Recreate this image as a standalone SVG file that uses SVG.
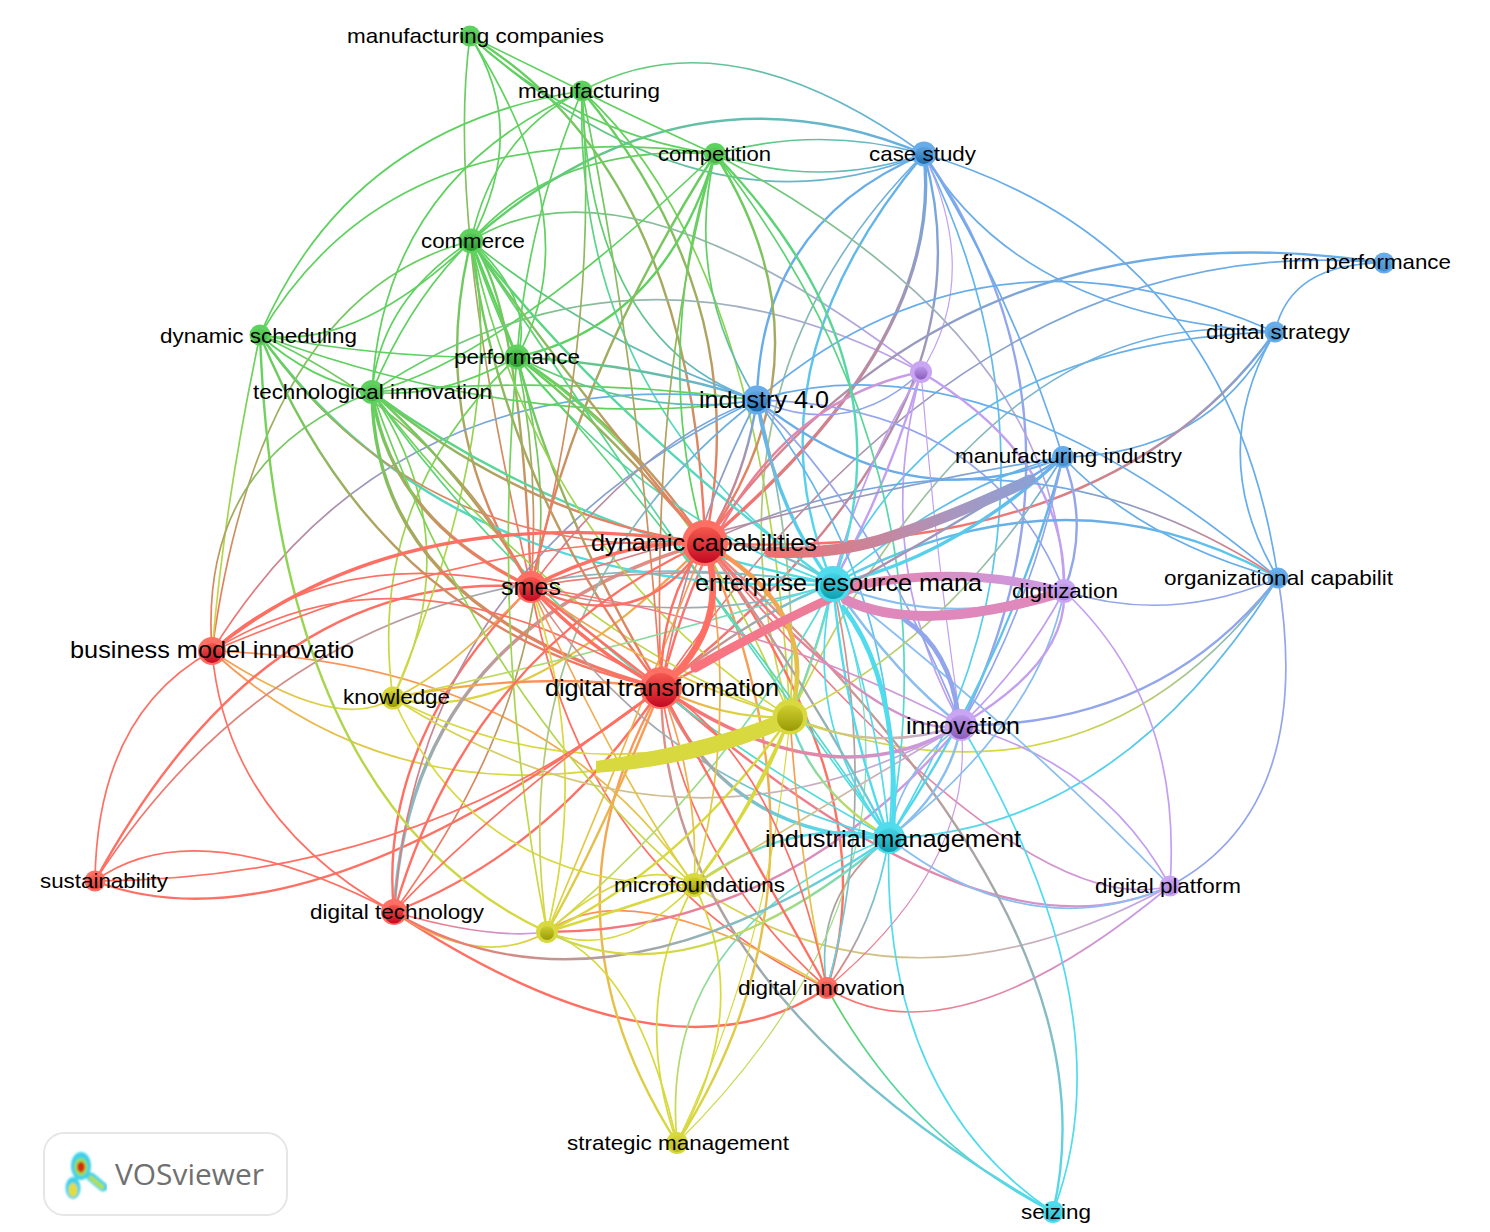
<svg xmlns="http://www.w3.org/2000/svg" width="1490" height="1232" viewBox="0 0 1490 1232">
<style>
text{font-family:"Liberation Sans",Arial,sans-serif;fill:#000}
.s{font-size:21px}.l{font-size:24px}
#connectors path{fill:none;stroke-width:1.7;stroke-linecap:round}
#connectors .w1{stroke-width:1.2}#connectors .w2{stroke-width:2.4}#connectors .w3{stroke-width:3.4}#connectors .w4{stroke-width:4.6}#connectors .w6{stroke-width:6.5}
.r{stroke:#ff6f63}.g{stroke:#5fd15f}.b{stroke:#68ade9}.y{stroke:#d8d83f}.p{stroke:#c39ff0}.c{stroke:#50dcec}
.rg{stroke:url(#l-rg)}.rb{stroke:url(#l-rb)}.ry{stroke:url(#l-ry)}.rp{stroke:url(#l-rp)}.rc{stroke:url(#l-rc)}.rh{stroke:url(#l-rh)}.gb{stroke:url(#l-gb)}.gy{stroke:url(#l-gy)}.gp{stroke:url(#l-gp)}.gc{stroke:url(#l-gc)}.by{stroke:url(#l-by)}.bp{stroke:#93a6ec}.bc{stroke:url(#l-bc)}.yp{stroke:url(#l-yp)}.yc{stroke:url(#l-yc)}.pc{stroke:#89beee}
.nr{fill:#ff6f63}.ng{fill:#5fd15f}.nb{fill:#68ade9}.ny{fill:#d8d83f}.np{fill:#c9a5f3}.nc{fill:#50dcec}
.ir{fill:url(#ir)}.ig{fill:url(#ig)}.ib{fill:url(#ib)}.iy{fill:url(#iy)}.ip{fill:url(#ip)}.ic{fill:url(#ic)}
.f{opacity:.45}
</style>
<defs>
<linearGradient id="ir" x1="0" y1="0" x2="0" y2="1"><stop offset="0" stop-color="#f4584e"/><stop offset="1" stop-color="#c40a22"/></linearGradient>
<linearGradient id="ig" x1="0" y1="0" x2="0" y2="1"><stop offset="0" stop-color="#58c858"/><stop offset="1" stop-color="#2c9a30"/></linearGradient>
<linearGradient id="ib" x1="0" y1="0" x2="0" y2="1"><stop offset="0" stop-color="#62a8e6"/><stop offset="1" stop-color="#1d6cad"/></linearGradient>
<linearGradient id="iy" x1="0" y1="0" x2="0" y2="1"><stop offset="0" stop-color="#cfcf30"/><stop offset="1" stop-color="#9a9a08"/></linearGradient>
<linearGradient id="ip" x1="0" y1="0" x2="0" y2="1"><stop offset="0" stop-color="#bd98ea"/><stop offset="1" stop-color="#8a5cbc"/></linearGradient>
<linearGradient id="ic" x1="0" y1="0" x2="0" y2="1"><stop offset="0" stop-color="#48d4e6"/><stop offset="1" stop-color="#0ea0b0"/></linearGradient>
<linearGradient id="l-rg" x1="0" y1="0" x2="0" y2="1"><stop offset="0" stop-color="#5fd15f"/><stop offset=".25" stop-color="#7cc45e"/><stop offset="1" stop-color="#ff6f63"/></linearGradient>
<linearGradient id="l-rb" x1="0" y1="0" x2="0" y2="1"><stop offset="0" stop-color="#68ade9"/><stop offset="1" stop-color="#ff6f63"/></linearGradient>
<linearGradient id="l-ry" x1="0" y1="0" x2="0" y2="1"><stop offset="0" stop-color="#ff8f5a"/><stop offset="1" stop-color="#d8d83f"/></linearGradient>
<linearGradient id="l-rp" x1="0" y1="0" x2="1" y2="0"><stop offset="0" stop-color="#ff6f63"/><stop offset="1" stop-color="#c39ff0"/></linearGradient>
<linearGradient id="l-rc" x1="0" y1="0" x2="0" y2="1"><stop offset="0" stop-color="#e88a80"/><stop offset=".5" stop-color="#a7a5a7"/><stop offset="1" stop-color="#50dcec"/></linearGradient>
<linearGradient id="l-rh" x1="0" y1="0" x2="1" y2="0"><stop offset="0" stop-color="#ff6f63"/><stop offset=".5" stop-color="#a7a5a7"/><stop offset="1" stop-color="#50dcec"/></linearGradient>
<linearGradient id="l-gb" x1="0" y1="0" x2="1" y2="0"><stop offset="0" stop-color="#5fd15f"/><stop offset="1" stop-color="#68ade9"/></linearGradient>
<linearGradient id="l-gy" x1="0" y1="0" x2="0" y2="1"><stop offset="0" stop-color="#5fd15f"/><stop offset="1" stop-color="#d8d83f"/></linearGradient>
<linearGradient id="l-gp" x1="0" y1="0" x2="1" y2="0"><stop offset="0" stop-color="#5fd15f"/><stop offset="1" stop-color="#c39ff0"/></linearGradient>
<linearGradient id="l-gc" x1="0" y1="0" x2="0" y2="1"><stop offset="0" stop-color="#5fd15f"/><stop offset="1" stop-color="#50dcec"/></linearGradient>
<linearGradient id="l-by" x1="0" y1="0" x2="0" y2="1"><stop offset="0" stop-color="#68ade9"/><stop offset="1" stop-color="#d8d83f"/></linearGradient>
<linearGradient id="l-bc" x1="0" y1="0" x2="0" y2="1"><stop offset="0" stop-color="#68ade9"/><stop offset="1" stop-color="#50dcec"/></linearGradient>
<linearGradient id="l-yp" x1="0" y1="0" x2="1" y2="0"><stop offset="0" stop-color="#d8d83f"/><stop offset="1" stop-color="#c39ff0"/></linearGradient>
<linearGradient id="l-yc" x1="0" y1="0" x2="0" y2="1"><stop offset="0" stop-color="#50dcec"/><stop offset="1" stop-color="#d8d83f"/></linearGradient>
<linearGradient id="gMIDC" gradientUnits="userSpaceOnUse" x1="1063" y1="457" x2="780" y2="560"><stop offset="0" stop-color="#7ea6de"/><stop offset=".4" stop-color="#a896c0"/><stop offset="1" stop-color="#ec7272"/></linearGradient>
<linearGradient id="gDTDG" gradientUnits="userSpaceOnUse" x1="661" y1="688" x2="1064" y2="591"><stop offset="0" stop-color="#ff6f70"/><stop offset=".45" stop-color="#ea7ea0"/><stop offset="1" stop-color="#c99ce8"/></linearGradient>
<filter id="soft"><feGaussianBlur stdDeviation="0.8"/></filter>
</defs>
<rect width="1490" height="1232" fill="#fff"/>
<g id="connectors">
<path class="g" d="M260 335Q349 127 582 91"/>
<path class="g" d="M260 335Q393 109 715 154"/>
<path class="g" d="M471 241Q557 143 715 154"/>
<path class="gb w2" d="M471 241Q683 53 924 154"/>
<path class="gb" d="M582 91Q727 12 924 154"/>
<path class="gb" d="M470 36Q703 245 924 154"/>
<path class="g" d="M470 36Q578 135 715 154"/>
<path class="g" d="M470 36Q530 130 471 241"/>
<path class="rg" d="M470 36Q445 220 531 587"/>
<path class="g" d="M470 36Q592 225 517 357"/>
<path class="g" d="M470 36L582 91"/>
<path class="g" d="M582 91Q494 134 471 241"/>
<path class="g" d="M582 91Q383 179 372 392"/>
<path class="g" d="M582 91Q526 226 517 357"/>
<path class="gc" d="M582 91Q573 403 833 584"/>
<path class="gb" d="M582 91Q590 345 757 400"/>
<path class="rg w2" d="M582 91Q757 303 705 543"/>
<path class="rg w2" d="M470 36Q693 170 705 543"/>
<path class="gy" d="M582 91Q765 256 790 717"/>
<path class="g" d="M582 91Q640 120 715 154"/>
<path class="g" d="M471 241Q536 301 517 357"/>
<path class="g w2" d="M471 241L517 357"/>
<path class="g" d="M471 241Q490 300 517 357"/>
<path class="rg w2" d="M471 241Q520 300 531 587"/>
<path class="g" d="M471 241Q355 352 260 335"/>
<path class="rg" d="M471 241Q260 295 212 651"/>
<path class="g" d="M471 241Q410 300 372 392"/>
<path class="g" d="M471 241Q380 300 372 392"/>
<path class="rg w2" d="M471 241Q425 425 531 587"/>
<path class="gb" d="M471 241Q600 346 757 400"/>
<path class="gp" d="M471 241Q624 144 921 372"/>
<path class="gp" d="M372 392Q634 218 921 372"/>
<path class="rb" d="M212 651Q396 355 757 400"/>
<path class="b w2" d="M924 154Q760 223 757 400"/>
<path class="bc w2" d="M924 154Q742 371 833 584"/>
<path class="rb w3" d="M924 154Q945 342 705 543"/>
<path class="rb w2" d="M924 154Q1000 420 661 688"/>
<path class="by" d="M924 154Q693 385 790 717"/>
<path class="b" d="M924 154Q1020 317 1275 332"/>
<path class="b" d="M924 154Q1229 244 1278 578"/>
<path class="bp w2" d="M924 154Q1108 420 961 725"/>
<path class="bc" d="M924 154Q1094 504 889 838"/>
<path class="p w1" d="M924 154Q982 277 921 372"/>
<path class="b" d="M924 154Q1010 290 1063 457"/>
<path class="gb" d="M715 154Q820 125 924 154"/>
<path class="gb" d="M715 154Q820 190 924 154"/>
<path class="gp" d="M715 154Q1060 338 1064 591"/>
<path class="b" d="M1384 263Q1290 263 1275 332"/>
<path class="rb w2" d="M1384 263Q955 197 705 543"/>
<path class="rb" d="M1384 263Q978 225 661 688"/>
<path class="b" d="M1275 332Q984 204 757 400"/>
<path class="bc" d="M1275 332Q946 342 833 584"/>
<path class="by" d="M1275 332Q990 295 790 717"/>
<path class="b" d="M1275 332Q1210 455 1063 457"/>
<path class="rb w2" d="M1275 332Q1110 563 705 543"/>
<path class="b" d="M1275 332Q1204 455 1278 578"/>
<path class="b" d="M757 400Q983 331 1278 578"/>
<path class="bp" d="M757 400Q990 405 1064 591"/>
<path class="b w2" d="M757 400Q910 522 1063 457"/>
<path class="bp" d="M757 400Q850 440 921 372"/>
<path class="rp w2" d="M661 688Q729 410 921 372"/>
<path class="p" d="M921 372Q860 470 833 584"/>
<path class="p w2" d="M921 372Q890 480 833 584"/>
<path class="p w1" d="M921 372Q935 550 961 725"/>
<path class="p w2" d="M921 372Q1068 460 1064 591"/>
<path class="p" d="M921 372Q870 560 961 725"/>
<path class="b" d="M1278 578Q1140 540 1063 457"/>
<path class="bc w2" d="M1278 578Q1065 459 833 584"/>
<path class="rb" d="M1278 578Q1009 400 705 543"/>
<path class="bp" d="M1278 578Q1170 625 1064 591"/>
<path class="bp w2" d="M1278 578Q1160 728 961 725"/>
<path class="by" d="M1278 578Q1090 830 790 717"/>
<path class="bc" d="M1278 578Q1117 832 889 838"/>
<path class="bp" d="M1278 578Q1316 808 1170 886"/>
<path class="p" d="M1170 886Q1105 765 961 725"/>
<path class="p" d="M1170 886Q1183 702 1064 591"/>
<path class="rp w2" d="M661 688Q985 973 1170 886"/>
<path class="rp" d="M705 543Q1023 926 1170 886"/>
<path class="pc" d="M1170 886Q1030 948 889 838"/>
<path class="yp" d="M694 885Q908 1030 1170 886"/>
<path class="rp" d="M827 988Q952 1067 1170 886"/>
<path class="rp w1" d="M827 988Q976 864 961 725"/>
<path class="rh" d="M827 988Q875 925 889 838"/>
<path class="rc" d="M889 838Q812 897 827 988"/>
<path class="r w2" d="M827 988Q890 795 705 543"/>
<path class="r" d="M827 988Q686 862 661 688"/>
<path class="r" d="M827 988Q581 873 531 587"/>
<path class="r w2" d="M394 912Q670 1094 827 988"/>
<path class="ry" d="M827 988Q633 870 547 932"/>
<path class="gc" d="M827 988Q910 1140 1053 1212"/>
<path class="c" d="M889 838Q880 1095 1053 1212"/>
<path class="c" d="M961 725Q1130 1012 1053 1212"/>
<path class="rc w2" d="M705 543Q1121 923 1053 1212"/>
<path class="rc w2" d="M661 688Q663 990 1053 1212"/>
<path class="ry w2" d="M661 688Q531 915 677 1143"/>
<path class="y" d="M677 1143Q638 963 547 932"/>
<path class="y" d="M677 1143Q629 1006 694 885"/>
<path class="y" d="M677 1143Q755 1006 694 885"/>
<path class="ry w2" d="M705 543Q849 877 677 1143"/>
<path class="yc w1" d="M833 584Q945 877 677 1143"/>
<path class="yc" d="M889 838Q657 930 677 1143"/>
<path class="y w1" d="M677 1143Q770 950 790 717"/>
<path class="ry" d="M212 651Q439 860 790 717"/>
<path class="ry" d="M212 651Q338 735 393 698"/>
<path class="ry w2" d="M705 543Q520 730 393 698"/>
<path class="ry" d="M212 651Q546 662 694 885"/>
<path class="r" d="M212 651Q97 714 95 881"/>
<path class="r" d="M212 651Q227 819 394 912"/>
<path class="r w2" d="M95 881Q267 566 531 587"/>
<path class="rh" d="M95 881Q336 508 833 584"/>
<path class="r" d="M95 881Q195 808 394 912"/>
<path class="r w2" d="M95 881Q300 960 661 688"/>
<path class="rc w3" d="M705 543Q410 627 394 912"/>
<path class="r w2" d="M394 912Q553 850 661 688"/>
<path class="r w2" d="M394 912Q377 740 531 587"/>
<path class="rb" d="M394 912Q420 560 757 400"/>
<path class="rg" d="M394 912Q600 630 517 357"/>
<path class="rp" d="M394 912Q490 940 547 932"/>
<path class="ry" d="M394 912Q480 970 547 932"/>
<path class="rh w2" d="M394 912Q600 1035 889 838"/>
<path class="yc w2" d="M889 838Q690 1005 547 932"/>
<path class="rp w2" d="M547 932Q786 932 961 725"/>
<path class="y" d="M547 932Q620 962 694 885"/>
<path class="y w2" d="M547 932Q620 910 694 885"/>
<path class="y" d="M547 932Q640 850 694 885"/>
<path class="gy w2" d="M260 335Q277 807 547 932"/>
<path class="y" d="M393 698Q477 889 694 885"/>
<path class="y" d="M393 698Q590 800 790 717"/>
<path class="yp" d="M393 698Q683 883 961 725"/>
<path class="ry" d="M531 587Q440 680 393 698"/>
<path class="gy" d="M517 357Q365 500 393 698"/>
<path class="gy" d="M471 241Q510 420 393 698"/>
<path class="gy" d="M372 392Q470 540 393 698"/>
<path class="g" d="M260 335Q310 380 372 392"/>
<path class="gy" d="M260 335Q225 500 212 651"/>
<path class="g" d="M260 335Q532 435 757 400"/>
<path class="rg" d="M260 335Q445 420 531 587"/>
<path class="gc w2" d="M260 335Q454 600 833 584"/>
<path class="rg w2" d="M260 335Q380 629 661 688"/>
<path class="rg" d="M260 335Q418 561 705 543"/>
<path class="g" d="M260 335Q390 360 517 357"/>
<path class="rg" d="M372 392Q198 460 212 651"/>
<path class="g" d="M372 392Q564 375 757 400"/>
<path class="gc w2" d="M372 392Q560 530 833 584"/>
<path class="rg w3" d="M372 392Q374 610 661 688"/>
<path class="rg w3" d="M372 392Q390 520 531 587"/>
<path class="rg w2" d="M372 392Q530 520 705 543"/>
<path class="g" d="M372 392Q500 360 715 154"/>
<path class="g" d="M372 392Q440 400 517 357"/>
<path class="gy" d="M372 392Q560 640 790 717"/>
<path class="gy" d="M372 392Q480 700 694 885"/>
<path class="gc" d="M372 392Q560 660 889 838"/>
<path class="g w2" d="M517 357Q664 325 715 154"/>
<path class="rg w2" d="M715 154Q577 370 531 587"/>
<path class="g" d="M715 154Q650 352 705 543"/>
<path class="gb" d="M715 154Q684 283 757 400"/>
<path class="gc w2" d="M715 154Q916 361 833 584"/>
<path class="rg w2" d="M715 154Q840 352 705 543"/>
<path class="gc" d="M715 154Q958 464 889 838"/>
<path class="gb w2" d="M517 357Q650 365 757 400"/>
<path class="gb" d="M517 357Q640 420 757 400"/>
<path class="rg w2" d="M517 357Q620 420 705 543"/>
<path class="gc" d="M517 357Q650 520 833 584"/>
<path class="rg w2" d="M517 357Q560 520 661 688"/>
<path class="rg" d="M517 357Q540 470 531 587"/>
<path class="gy" d="M517 357Q490 650 547 932"/>
<path class="gy" d="M517 357Q690 470 790 717"/>
<path class="gc" d="M517 357Q700 560 889 838"/>
<path class="gc w2" d="M471 241Q610 420 833 584"/>
<path class="rg w2" d="M471 241Q560 370 705 543"/>
<path class="rg w2" d="M471 241Q500 480 661 688"/>
<path class="gc" d="M471 241Q690 570 889 838"/>
<path class="gy" d="M471 241Q540 560 790 717"/>
<path class="rg" d="M582 91Q640 370 661 688"/>
<path class="rg" d="M582 91Q600 330 531 587"/>
<path class="rg" d="M715 154Q650 380 661 688"/>
<path class="rb" d="M757 400Q690 530 661 688"/>
<path class="rb w2" d="M757 400Q745 480 705 543"/>
<path class="rb" d="M757 400Q640 440 531 587"/>
<path class="bc w3" d="M757 400Q775 510 833 584"/>
<path class="bc" d="M757 400Q910 600 889 838"/>
<path class="bp" d="M757 400Q880 520 961 725"/>
<path class="by" d="M757 400Q800 560 790 717"/>
<path class="by" d="M757 400Q500 600 547 932"/>
<path class="bc w3" d="M1063 457Q950 560 833 584"/>
<path class="bc" d="M1063 457Q960 480 833 584"/>
<path class="rh w2" d="M705 543Q770 540 833 584"/>
<path class="rh w2" d="M661 688Q760 610 833 584"/>
<path class="rh" d="M531 587Q690 630 833 584"/>
<path class="rh" d="M531 587Q680 560 833 584"/>
<path class="yc" d="M833 584Q620 650 393 698"/>
<path class="yc w2" d="M833 584Q815 660 790 717"/>
<path class="yc" d="M833 584Q790 760 694 885"/>
<path class="yc" d="M833 584Q730 780 547 932"/>
<path class="pc w2" d="M833 584Q900 680 961 725"/>
<path class="pc" d="M833 584Q1030 740 1170 886"/>
<path class="rc" d="M827 988Q880 800 833 584"/>
<path class="pc w2" d="M833 584Q950 630 1064 591"/>
<path class="c w2" d="M833 584Q845 720 889 838"/>
<path class="c" d="M833 584Q880 720 889 838"/>
<path class="c" d="M833 584Q800 720 889 838"/>
<path class="pc" d="M889 838Q900 770 961 725"/>
<path class="pc w2" d="M889 838Q950 790 961 725"/>
<path class="rc w2" d="M705 543Q800 670 889 838"/>
<path class="rc" d="M531 587Q650 780 889 838"/>
<path class="yc w2" d="M889 838Q790 815 694 885"/>
<path class="yc w2" d="M790 717Q810 790 889 838"/>
<path class="bc w2" d="M1063 457Q1010 660 889 838"/>
<path class="pc" d="M889 838Q1040 720 1064 591"/>
<path class="rc w3" d="M661 688Q725 837 889 838"/>
<path class="p w2" d="M1064 591Q1068 662 961 725"/>
<path class="p" d="M1064 591Q1025 665 961 725"/>
<path class="bp w2" d="M1064 591Q1090 525 1063 457"/>
<path class="bp" d="M1063 457Q1030 610 961 725"/>
<path class="rb w2" d="M1063 457Q900 560 661 688"/>
<path class="rb" d="M1063 457Q800 500 531 587"/>
<path class="by" d="M1063 457Q950 640 790 717"/>
<path class="rp w2" d="M705 543Q887 746 961 725"/>
<path class="rp w3" d="M661 688Q829 804 961 725"/>
<path class="rp" d="M531 587Q760 620 961 725"/>
<path class="yp" d="M694 885Q850 790 961 725"/>
<path class="yp w2" d="M790 717Q875 755 961 725"/>
<path class="ry w4" d="M705 543Q823 610 790 717"/>
<path class="ry w2" d="M661 688Q725 720 790 717"/>
<path class="y w2" d="M790 717Q740 830 694 885"/>
<path class="y w2" d="M790 717Q760 800 694 885"/>
<path class="y w2" d="M790 717Q680 870 547 932"/>
<path class="ry" d="M790 717Q800 870 827 988"/>
<path class="ry" d="M531 587Q660 680 790 717"/>
<path class="r w3" d="M212 651Q400 497 705 543"/>
<path class="r" d="M212 651Q500 530 705 543"/>
<path class="r" d="M212 651Q330 541 531 587"/>
<path class="r" d="M212 651Q404 530 661 688"/>
<path class="r w3" d="M705 543Q620 540 531 587"/>
<path class="r w3" d="M661 688Q590 650 531 587"/>
<path class="r w2" d="M661 688Q580 625 531 587"/>
<path class="rg w2" d="M517 357Q600 420 705 543"/>
<path class="ry" d="M705 543Q740 720 694 885"/>
<path class="ry" d="M705 543Q620 760 547 932"/>
<path class="ry" d="M661 688Q700 790 694 885"/>
<path class="ry w2" d="M661 688Q600 840 547 932"/>
<path class="ry w2" d="M661 688Q530 670 393 698"/>
<path class="y" d="M531 587Q590 760 547 932"/>
<path class="ry" d="M531 587Q620 780 694 885"/>
<path class="rg w2" d="M372 392Q470 480 531 587"/>
<path class="r w2" d="M661 688Q720 800 827 988"/>
<path class="r" d="M661 688Q780 760 827 988"/>
<path class="r" d="M661 688Q500 800 394 912"/>
<path class="r w2" d="M705 543Q470 650 394 912"/>
<path class="r" d="M95 881Q420 880 661 688"/>
<path class="r w2" d="M705 543Q640 640 531 587"/>
<path class="r w2" d="M705 543Q660 600 661 688"/>
<path class="r w6" d="M705 543Q733 625 661 688"/>
<path fill="none" stroke="url(#gMIDC)" style="stroke-width:11" d="M1030 480Q950 518 880 540Q830 555 770 552"/>
<path fill="none" stroke="url(#gDTDG)" style="stroke-width:9" d="M695 668Q780 620 860 585Q960 565 1060 591"/>
<path class="rp" style="stroke:#df88bb;stroke-width:10" d="M846 600Q920 635 1060 593"/>
<path class="bp w4" d="M905 620Q950 650 958 715"/>
<path class="c w4" d="M843 607Q900 680 893 830"/>
<path style="fill:#d8d83f;stroke:none" d="M596 761Q700 745 775 716L783 729Q700 765 596 773Z"/>
</g>
<g id="logo">
<rect x="44" y="1133" width="243" height="82" rx="20" fill="#fff" stroke="#e6e6e6" stroke-width="2"/>
<g filter="url(#soft)">
<ellipse cx="81" cy="1166" rx="10" ry="14" fill="#3fd0e8"/>
<ellipse cx="73" cy="1188" rx="7.5" ry="11" fill="#3fd0e8"/>
<path d="M91 1177L103 1187" stroke="#3fd0e8" stroke-width="9" stroke-linecap="round" fill="none"/>
<ellipse cx="81" cy="1167" rx="6.5" ry="9" fill="#9ae04e"/>
<ellipse cx="73" cy="1190" rx="4.5" ry="7" fill="#e4dc3c"/>
<path d="M91 1178L102 1187" stroke="#b4e04c" stroke-width="4.5" stroke-linecap="round" fill="none"/>
<ellipse cx="81" cy="1167" rx="4" ry="5.5" fill="#d62a10"/>
</g>
<text x="115" y="1185" font-size="29" textLength="149" lengthAdjust="spacingAndGlyphs" style="font-family:'Open Sans',sans-serif;fill:#707070">VOSviewer</text>
</g>
<g id="n-mc"><circle cx="470" cy="36" r="10.5" class="ng"/><circle cx="470" cy="37" r="7.5" class="ig f"/><text class="s" x="347" y="43" textLength="257" lengthAdjust="spacingAndGlyphs">manufacturing companies</text></g>
<g id="n-m"><circle cx="582" cy="91" r="10.5" class="ng"/><circle cx="582" cy="92" r="7.5" class="ig f"/><text class="s" x="518" y="98" textLength="142" lengthAdjust="spacingAndGlyphs">manufacturing</text></g>
<g id="n-cp"><circle cx="715" cy="154" r="11" class="ng"/><circle cx="715" cy="155" r="8" class="ig f"/><text class="s" x="658" y="161" textLength="113" lengthAdjust="spacingAndGlyphs">competition</text></g>
<g id="n-cs"><circle cx="924" cy="154" r="12.5" class="nb"/><circle cx="924" cy="155" r="9" class="ib"/><text class="s" x="869" y="161" textLength="107" lengthAdjust="spacingAndGlyphs">case study</text></g>
<g id="n-co"><circle cx="471" cy="241" r="12.5" class="ng"/><circle cx="471" cy="242" r="9" class="ig"/><text class="s" x="421" y="248" textLength="104" lengthAdjust="spacingAndGlyphs">commerce</text></g>
<g id="n-fp"><circle cx="1384" cy="263" r="10.5" class="nb"/><circle cx="1384" cy="264" r="7.5" class="ib f"/><text class="s" x="1282" y="269" textLength="169" lengthAdjust="spacingAndGlyphs">firm performance</text></g>
<g id="n-ds"><circle cx="260" cy="335" r="10.5" class="ng"/><circle cx="260" cy="336" r="7.5" class="ig f"/><text class="s" x="160" y="343" textLength="197" lengthAdjust="spacingAndGlyphs">dynamic scheduling</text></g>
<g id="n-dst"><circle cx="1275" cy="332" r="10.5" class="nb"/><circle cx="1275" cy="333" r="7.5" class="ib f"/><text class="s" x="1206" y="339" textLength="144" lengthAdjust="spacingAndGlyphs">digital strategy</text></g>
<g id="n-pf"><circle cx="517" cy="357" r="12.5" class="ng"/><circle cx="517" cy="358" r="9" class="ig"/><text class="s" x="454" y="364" textLength="126" lengthAdjust="spacingAndGlyphs">performance</text></g>
<g id="n-pu"><circle cx="921" cy="372" r="11" class="np"/><circle cx="921" cy="373" r="6.5" class="ip"/></g>
<g id="n-ti"><circle cx="372" cy="392" r="12" class="ng"/><circle cx="372" cy="393" r="8.5" class="ig f"/><text class="s" x="253" y="399" textLength="239" lengthAdjust="spacingAndGlyphs">technological innovation</text></g>
<g id="n-i4"><circle cx="757" cy="400" r="14.5" class="nb"/><circle cx="757" cy="401" r="10.5" class="ib"/><text class="l" x="699" y="408" textLength="130" lengthAdjust="spacingAndGlyphs">industry 4.0</text></g>
<g id="n-mi"><circle cx="1063" cy="457" r="11" class="nb"/><circle cx="1063" cy="458" r="8" class="ib f"/><text class="s" x="955" y="463" textLength="227" lengthAdjust="spacingAndGlyphs">manufacturing industry</text></g>
<g id="n-dc"><circle cx="705" cy="543" r="23" class="nr"/><circle cx="705" cy="545" r="18" class="ir"/></g>
<g id="n-erp"><circle cx="833" cy="584" r="18" class="nc"/><circle cx="833" cy="586" r="13" class="ic"/></g>
<g id="n-sm"><circle cx="531" cy="587" r="16" class="nr"/><circle cx="531" cy="589" r="12" class="ir"/><text class="l" x="501" y="595" textLength="60" lengthAdjust="spacingAndGlyphs">smes</text></g>
<g id="n-dg"><circle cx="1064" cy="591" r="12" class="np"/><circle cx="1064" cy="592" r="8.5" class="ip f"/><text class="s" x="1012" y="598" textLength="106" lengthAdjust="spacingAndGlyphs">digitization</text></g>
<g id="n-oc"><circle cx="1278" cy="578" r="10.5" class="nb"/><circle cx="1278" cy="579" r="7.5" class="ib f"/><text class="s" x="1164" y="585" textLength="229" lengthAdjust="spacingAndGlyphs">organizational capabilit</text></g>
<g id="n-bm"><circle cx="212" cy="651" r="14" class="nr"/><circle cx="212" cy="653" r="10" class="ir"/><text class="l" x="70" y="658" textLength="284" lengthAdjust="spacingAndGlyphs">business model innovatio</text></g>
<g id="n-kn"><circle cx="393" cy="698" r="11.5" class="ny"/><circle cx="393" cy="699" r="8" class="iy"/><text class="s" x="343" y="704" textLength="107" lengthAdjust="spacingAndGlyphs">knowledge</text></g>
<g id="n-dt"><circle cx="661" cy="688" r="21" class="nr"/><circle cx="661" cy="690" r="17" class="ir"/></g>
<g id="n-yu"><circle cx="790" cy="717" r="17.5" class="ny"/><circle cx="790" cy="718" r="13" class="iy"/></g>
<g id="n-in"><circle cx="961" cy="725" r="16" class="np"/><circle cx="961" cy="727" r="12" class="ip"/><text class="l" x="906" y="734" textLength="114" lengthAdjust="spacingAndGlyphs">innovation</text></g>
<g id="n-im"><circle cx="889" cy="838" r="16" class="nc"/><circle cx="889" cy="840" r="12" class="ic"/><text class="l" x="765" y="847" textLength="256" lengthAdjust="spacingAndGlyphs">industrial management</text></g>
<g id="n-su"><circle cx="95" cy="881" r="10.5" class="nr"/><circle cx="95" cy="882" r="7.5" class="ir f"/><text class="s" x="40" y="888" textLength="128" lengthAdjust="spacingAndGlyphs">sustainability</text></g>
<g id="n-mf"><circle cx="694" cy="885" r="12" class="ny"/><circle cx="694" cy="886" r="8.5" class="iy"/><text class="s" x="614" y="892" textLength="171" lengthAdjust="spacingAndGlyphs">microfoundations</text></g>
<g id="n-dp"><circle cx="1170" cy="886" r="10.5" class="np"/><circle cx="1170" cy="887" r="7.5" class="ip f"/><text class="s" x="1095" y="893" textLength="146" lengthAdjust="spacingAndGlyphs">digital platform</text></g>
<g id="n-dtc"><circle cx="394" cy="912" r="13" class="nr"/><circle cx="394" cy="914" r="9.5" class="ir"/><text class="s" x="310" y="919" textLength="174" lengthAdjust="spacingAndGlyphs">digital technology</text></g>
<g id="n-yl"><circle cx="547" cy="932" r="11" class="ny"/><circle cx="547" cy="933" r="7" class="iy"/></g>
<g id="n-di"><circle cx="827" cy="988" r="11" class="nr"/><circle cx="827" cy="989" r="8" class="ir f"/><text class="s" x="738" y="995" textLength="167" lengthAdjust="spacingAndGlyphs">digital innovation</text></g>
<g id="n-st"><circle cx="677" cy="1143" r="11" class="ny"/><circle cx="677" cy="1144" r="8" class="iy f"/><text class="s" x="567" y="1150" textLength="222" lengthAdjust="spacingAndGlyphs">strategic management</text></g>
<g id="n-sz"><circle cx="1053" cy="1212" r="11" class="nc"/><circle cx="1053" cy="1213" r="8" class="ic f"/><text class="s" x="1021" y="1219" textLength="70" lengthAdjust="spacingAndGlyphs">seizing</text></g>
<g id="labels-hub">
<text class="l" x="591" y="551" textLength="226" lengthAdjust="spacingAndGlyphs">dynamic capabilities</text>
<text class="l" x="695" y="591" textLength="287" lengthAdjust="spacingAndGlyphs">enterprise resource mana</text>
<text class="l" x="545" y="696" textLength="234" lengthAdjust="spacingAndGlyphs">digital transformation</text>
</g>
</svg>
